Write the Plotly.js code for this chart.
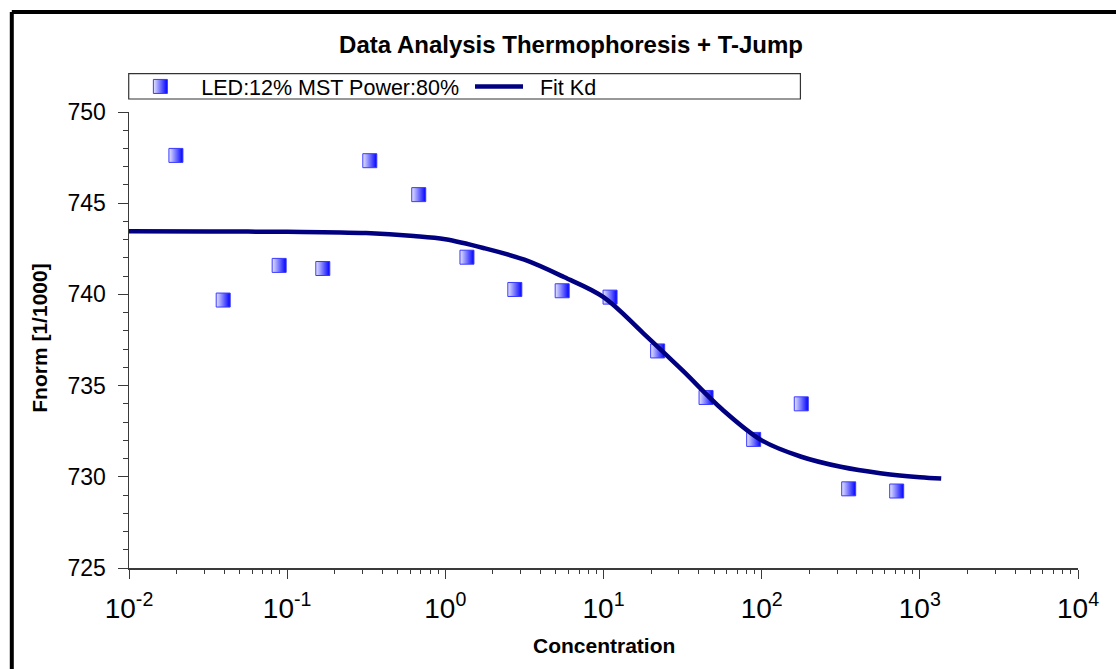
<!DOCTYPE html>
<html>
<head>
<meta charset="utf-8">
<script src="https://cdn.plot.ly/plotly-3.0.1.min.js"></script>
<style>
  html, body { margin: 0; padding: 0; background: #fff; }
  #chart { width: 1116px; height: 669px; }
</style>
</head>
<body>
<div id="chart"></div>
<script>
// Measured data (concentration vs Fnorm)
const concentration = [0.0198, 0.0394, 0.089, 0.168, 0.333, 0.679, 1.37, 2.75, 5.48, 11.0, 22.0, 44.5, 89.0, 178, 355, 714];
const fnorm = [747.62, 739.69, 741.59, 741.42, 747.33, 745.47, 742.04, 740.27, 740.20, 739.85, 736.90, 734.35, 732.05, 734.0, 729.34, 729.22];

// Fit curve
const fitConc = [0.01, 0.0316, 0.1, 0.316, 0.631, 1.0, 1.78, 3.16, 5.62, 10.0, 17.8, 31.6, 56.2, 100, 178, 316, 562, 1000, 1365];
const fitFnorm = [743.46, 743.45, 743.43, 743.36, 743.2, 743.02, 742.52, 741.9, 740.95, 739.85, 737.88, 735.83, 733.7, 732.0, 731.1, 730.55, 730.2, 729.98, 729.9];

// Axis tick values and labels
const xTickVals = [0.01, 0.1, 1, 10, 100, 1000, 10000];
const xTickText = ['10<sup>-2</sup>', '10<sup>-1</sup>', '10<sup>0</sup>', '10<sup>1</sup>', '10<sup>2</sup>', '10<sup>3</sup>', '10<sup>4</sup>'];
const yTickVals = [725, 730, 735, 740, 745, 750];

const seriesName = 'LED:12% MST Power:80%';
const fitName = 'Fit Kd';
const titleText = 'Data Analysis Thermophoresis + T-Jump';
const xTitle = 'Concentration';
const yTitle = 'Fnorm [1/1000]';

const FONT = 'Arial, "Liberation Sans", sans-serif';
const AX = '#3a3a3a';
const AX2 = '#7a7a7a';
const PAD = '\u00a0\u00a0';

const traces = [
  {
    x: concentration, y: fnorm, type: 'scatter', mode: 'markers', name: PAD + seriesName + '\u00a0',
    marker: { symbol: 'square', size: 14, color: '#e6e6ff',
      gradient: { type: 'horizontal', color: '#0000ff' },
      line: { color: '#3a3aff', width: 1 } }
  },
  {
    x: fitConc, y: fitFnorm, type: 'scatter', mode: 'lines', name: PAD + fitName,
    line: { color: '#000080', width: 4.5, shape: 'spline' }
  }
];

const xCommon = { type: 'log', range: [-2, 4], showgrid: false, zeroline: false, fixedrange: true,
  tickmode: 'array', tickvals: xTickVals };
const yCommon = { range: [725, 750], showgrid: false, zeroline: false, fixedrange: true,
  tickmode: 'array', tickvals: yTickVals };

const layout = {
  width: 1116, height: 669,
  margin: { l: 129, r: 38, t: 112, b: 101 },
  paper_bgcolor: '#ffffff', plot_bgcolor: '#ffffff',
  font: { family: FONT, color: '#000' },
  showlegend: true,
  legend: {
    orientation: 'h', x: 0.0025, xanchor: 'left', y: 1.056, yanchor: 'middle',
    bgcolor: 'rgba(0,0,0,0)', borderwidth: 0,
    font: { family: FONT, size: 21.5, color: '#000' },
    itemwidth: 48, tracegroupgap: 0
  },
  title: {
    text: '<b>' + titleText + '</b>', x: 0.5117, xref: 'container', xanchor: 'center',
    y: 0.934, yref: 'container', yanchor: 'middle',
    font: { family: FONT, size: 24, color: '#000' }
  },
  xaxis: Object.assign({}, xCommon, {
    anchor: 'y', side: 'bottom', ticktext: xTickText,
    ticks: 'outside', ticklen: 9, tickwidth: 1, tickcolor: AX,
    minor: { dtick: 'D1', ticks: 'outside', ticklen: 4, tickwidth: 1, tickcolor: AX },
    showline: true, linecolor: AX, linewidth: 1.5,
    ticklabelstandoff: 6,
    tickfont: { family: FONT, size: 28, color: '#000' }
  }),
  xaxis2: Object.assign({}, xCommon, {
    overlaying: 'x', anchor: 'y', side: 'bottom',
    ticks: 'inside', ticklen: 9, tickwidth: 1, tickcolor: AX,
    minor: { dtick: 'D1', ticks: 'inside', ticklen: 4, tickwidth: 1, tickcolor: AX },
    showticklabels: false, showline: false
  }),
  xaxis3: Object.assign({}, xCommon, {
    overlaying: 'x', anchor: 'y', side: 'top',
    ticks: 'inside', ticklen: 8, tickwidth: 1, tickcolor: AX2,
    minor: { dtick: 'D1', ticks: 'inside', ticklen: 4, tickwidth: 1, tickcolor: AX2 },
    showticklabels: false, showline: true, linecolor: AX2, linewidth: 1.5
  }),
  yaxis: Object.assign({}, yCommon, {
    anchor: 'x', side: 'left',
    ticks: 'outside', ticklen: 10, tickwidth: 1, tickcolor: AX,
    minor: { dtick: 1, ticks: 'outside', ticklen: 5, tickwidth: 1, tickcolor: AX },
    showline: true, linecolor: AX, linewidth: 1.5,
    ticklabelstandoff: 7,
    tickfont: { family: FONT, size: 23, color: '#000' }
  }),
  yaxis2: Object.assign({}, yCommon, {
    overlaying: 'y', anchor: 'x', side: 'left',
    ticks: 'inside', ticklen: 8, tickwidth: 1, tickcolor: AX,
    minor: { dtick: 1, ticks: 'inside', ticklen: 3, tickwidth: 1, tickcolor: AX },
    showticklabels: false, showline: false
  }),
  yaxis3: Object.assign({}, yCommon, {
    overlaying: 'y', anchor: 'x', side: 'right',
    ticks: 'inside', ticklen: 8, tickwidth: 1, tickcolor: AX2,
    minor: { dtick: 1, ticks: 'inside', ticklen: 5, tickwidth: 1, tickcolor: AX2 },
    showticklabels: false, showline: true, linecolor: AX2, linewidth: 1.5
  }),
  annotations: [
    { text: '<b>' + xTitle + '</b>', xref: 'paper', yref: 'paper', x: 0.5, y: -0.169,
      xanchor: 'center', yanchor: 'middle', showarrow: false,
      font: { family: FONT, size: 21, color: '#000' } },
    { text: '<b>' + yTitle + '</b>', xref: 'paper', yref: 'paper', x: -0.0937, y: 0.503,
      xanchor: 'center', yanchor: 'middle', showarrow: false, textangle: -90,
      font: { family: FONT, size: 21, color: '#000' } }
  ],
  shapes: [
    // legend box
    { type: 'rect', xref: 'paper', yref: 'paper', x0: -0.0003, x1: 0.7075, y0: 1.0285, y1: 1.084,
      line: { color: '#333', width: 1.2 }, fillcolor: 'rgba(0,0,0,0)', layer: 'below' },
    // outer frame (left and top)
    { type: 'line', xref: 'paper', yref: 'paper', x0: -0.1235, x1: -0.1235, y0: -0.25, y1: 1.2195,
      line: { color: '#000', width: 4 } },
    { type: 'line', xref: 'paper', yref: 'paper', x0: -0.1235, x1: 1.06, y0: 1.2195, y1: 1.2195,
      line: { color: '#000', width: 4 } }
  ]
};

Plotly.newPlot('chart', traces, layout, { displayModeBar: false, staticPlot: true });
</script>
</body>
</html>
